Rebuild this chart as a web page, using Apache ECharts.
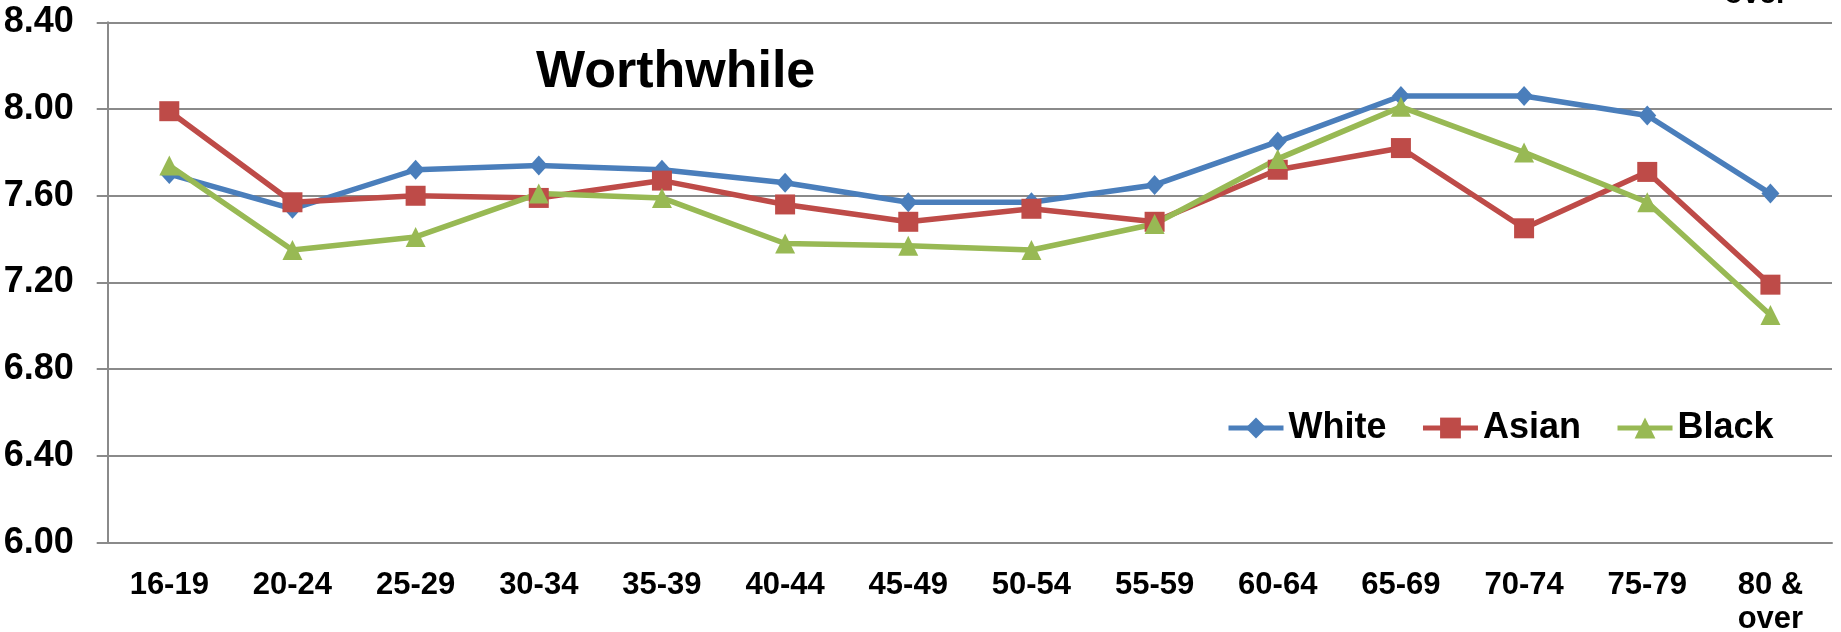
<!DOCTYPE html>
<html lang="en">
<head>
    <meta charset="UTF-8">
    <title>Worthwhile</title>
    <script src="https://cdn.jsdelivr.net/npm/echarts@6/dist/echarts.min.js"></script>
    <style>
        * { margin: 0; padding: 0; }
        body { background: #fff; }
        #chart { width: 1841px; height: 632px; }
    </style>
</head>
<body>
    <div id="chart"></div>
<script>
    // age groups on the x axis
    var ageGroups = ['16-19', '20-24', '25-29', '30-34', '35-39', '40-44', '45-49',
        '50-54', '55-59', '60-64', '65-69', '70-74', '75-79', '80 &\nover'];

    // mean "worthwhile" score
    var white = [7.70, 7.54, 7.72, 7.74, 7.72, 7.66, 7.57, 7.57, 7.65, 7.85, 8.06, 8.06, 7.97, 7.61];
    var asian = [7.99, 7.57, 7.60, 7.59, 7.67, 7.56, 7.48, 7.54, 7.48, 7.72, 7.82, 7.45, 7.71, 7.19];
    var black = [7.74, 7.35, 7.41, 7.61, 7.59, 7.38, 7.37, 7.35, 7.47, 7.77, 8.01, 7.80, 7.57, 7.05];

    var yMin = 6, yMax = 8.4, yStep = 0.4;

    var font = '"Liberation Sans", Arial, sans-serif';
    var gridColor = '#8a8a8a';

    var chart = echarts.init(document.getElementById('chart'));

    function lineSeries(name, data, color, symbol, size) {
        return {
            name: name,
            type: 'line',
            data: data,
            symbol: symbol,
            symbolSize: size,
            showAllSymbol: true,
            itemStyle: { color: color },
            lineStyle: { color: color, width: 5.5 },
            emphasis: { disabled: true }
        };
    }

    chart.setOption({
        animation: false,
        backgroundColor: '#fff',
        grid: { left: 107.7, right: 9, top: 22.3, bottom: 89.3, containLabel: false, outerBoundsMode: 'none' },
        legend: {
            left: 1226,
            top: 410,
            padding: 0,
            itemWidth: 55,
            itemHeight: 26,
            itemGap: 34,
            lineStyle: { width: 5 },
            textStyle: { fontFamily: font, fontWeight: 'bold', fontSize: 36, color: '#000' },
            data: ['White', 'Asian', 'Black']
        },
        graphic: [
            {
                type: 'text', left: 536, top: 47,
                style: { text: 'Worthwhile', font: 'bold 52px ' + font, fill: '#000' }
            },
            {
                // tail of a label from the chart above, cut by the top edge
                type: 'text', x: 1756, y: -5.5,
                style: { text: 'over', font: 'bold 30px ' + font, fill: '#000',
                    align: 'center', verticalAlign: 'middle' }
            }
        ],
        xAxis: {
            type: 'category',
            data: ageGroups,
            boundaryGap: true,
            axisLine: { lineStyle: { color: gridColor, width: 2 } },
            axisTick: { length: 9, lineStyle: { color: gridColor, width: 2 } },
            axisLabel: {
                interval: 0, margin: 25.5, color: '#000',
                fontFamily: font, fontWeight: 'bold', fontSize: 31, lineHeight: 34
            }
        },
        yAxis: {
            type: 'value',
            min: yMin, max: yMax, interval: yStep,
            axisLine: { show: true, lineStyle: { color: gridColor, width: 2 } },
            axisTick: { show: true, length: 11, lineStyle: { color: gridColor, width: 2 } },
            splitLine: { lineStyle: { color: gridColor, width: 2 } },
            axisLabel: {
                margin: 34, color: '#000',
                fontFamily: font, fontWeight: 'bold', fontSize: 36,
                formatter: function (v) { return v.toFixed(2); }
            }
        },
        series: [
            lineSeries('White', white, '#4a7ebb', 'diamond', [18, 20]),
            lineSeries('Asian', asian, '#be4b48', 'rect', 20),
            lineSeries('Black', black, '#98b954', 'triangle', 20)
        ]
    });
</script>
</body>
</html>
